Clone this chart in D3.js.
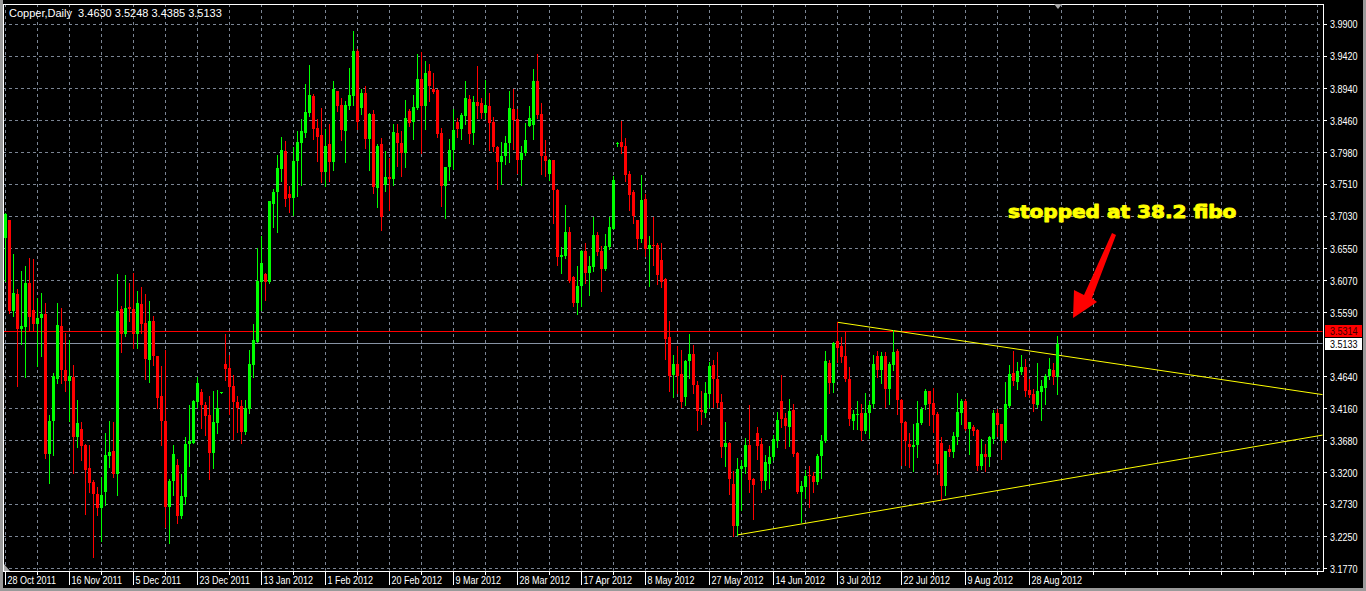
<!DOCTYPE html>
<html><head><meta charset="utf-8">
<script src="https://cdn.jsdelivr.net/npm/d3@7"></script>
<style>html,body{margin:0;padding:0;background:#000;overflow:hidden}</style>
</head><body>
<svg id="c" width="1366" height="591"></svg>
<script>
const symbolName = "Copper,Daily";
const dateLabels = ["28 Oct 2011","16 Nov 2011","5 Dec 2011","23 Dec 2011","13 Jan 2012","1 Feb 2012","20 Feb 2012","9 Mar 2012","28 Mar 2012","17 Apr 2012","8 May 2012","27 May 2012","14 Jun 2012","3 Jul 2012","22 Jul 2012","9 Aug 2012","28 Aug 2012"];
const priceTicks = [3.9900,3.9420,3.8940,3.8460,3.7980,3.7510,3.7030,3.6550,3.6070,3.5590,3.4640,3.4160,3.3680,3.3200,3.2730,3.2250,3.1770];
const opens = [3.6715,3.6975,3.5615,3.5865,3.5355,3.5375,3.603,3.564,3.543,3.551,3.558,3.348,3.3975,3.4605,3.540,3.474,3.4575,3.464,3.373,3.385,3.3615,3.3275,3.3065,3.289,3.268,3.2915,3.345,3.353,3.319,3.565,3.528,3.5675,3.5655,3.528,3.573,3.544,3.489,3.5475,3.495,3.435,3.398,3.269,3.3075,3.3315,3.255,3.284,3.363,3.365,3.4265,3.4415,3.4215,3.4065,3.35,3.394,3.4405,3.483,3.4765,3.45,3.4265,3.42,3.3805,3.415,3.4805,3.5155,3.6055,3.617,3.6055,3.722,3.739,3.7745,3.8015,3.737,3.7305,3.7855,3.813,3.828,3.857,3.883,3.8345,3.824,3.769,3.8105,3.784,3.89,3.869,3.8305,3.868,3.883,3.9505,3.8645,3.887,3.818,3.8555,3.7455,3.8105,3.7505,3.7615,3.7595,3.828,3.813,3.798,3.8605,3.844,3.8655,3.909,3.868,3.9205,3.894,3.8915,3.827,3.749,3.7765,3.803,3.844,3.833,3.853,3.879,3.827,3.874,3.873,3.858,3.868,3.844,3.807,3.784,3.794,3.813,3.864,3.849,3.787,3.798,3.838,3.84,3.9055,3.8555,3.794,3.767,3.787,3.743,3.643,3.644,3.68,3.613,3.574,3.599,3.6515,3.619,3.628,3.6755,3.6515,3.6245,3.658,3.6845,3.811,3.814,3.808,3.767,3.739,3.698,3.669,3.729,3.654,3.6605,3.6605,3.638,3.609,3.523,3.467,3.482,3.468,3.434,3.487,3.498,3.452,3.414,3.409,3.4375,3.481,3.461,3.426,3.3585,3.364,3.304,3.241,3.326,3.3285,3.361,3.311,3.38,3.3625,3.3075,3.334,3.3435,3.3675,3.4275,3.4015,3.3885,3.414,3.35,3.291,3.2985,3.317,3.316,3.306,3.345,3.3675,3.484,3.454,3.5175,3.51,3.494,3.461,3.3975,3.406,3.409,3.3825,3.409,3.4225,3.495,3.474,3.495,3.445,3.481,3.5025,3.429,3.3965,3.3625,3.3585,3.3615,3.394,3.421,3.4425,3.425,3.4075,3.364,3.30,3.356,3.351,3.374,3.409,3.4275,3.385,3.3885,3.384,3.331,3.349,3.344,3.371,3.409,3.3925,3.3675,3.42,3.469,3.456,3.471,3.4785,3.444,3.4375,3.421,3.441,3.4475,3.465,3.474,3.4630];
const highs = [3.708,3.698,3.6465,3.594,3.6215,3.629,3.6415,3.639,3.5815,3.589,3.574,3.4065,3.469,3.574,3.5665,3.529,3.519,3.4815,3.429,3.3965,3.3625,3.3615,3.31,3.299,3.314,3.379,3.398,3.3965,3.6165,3.569,3.615,3.604,3.618,3.5915,3.597,3.5875,3.5775,3.555,3.495,3.479,3.504,3.3115,3.3615,3.3415,3.319,3.374,3.4215,3.429,3.464,3.4455,3.4255,3.435,3.443,3.444,3.4415,3.5275,3.4965,3.4665,3.435,3.429,3.429,3.504,3.542,3.6555,3.674,3.619,3.7255,3.744,3.7955,3.8215,3.8155,3.748,3.807,3.8305,3.849,3.9005,3.929,3.8855,3.848,3.8655,3.834,3.8405,3.9055,3.89,3.8805,3.8755,3.924,3.9805,3.953,3.894,3.898,3.858,3.8615,3.8105,3.8205,3.8005,3.7905,3.8405,3.8405,3.8305,3.877,3.863,3.884,3.9455,3.949,3.9355,3.9305,3.918,3.893,3.8355,3.7765,3.818,3.863,3.8505,3.857,3.9055,3.884,3.883,3.928,3.8805,3.9065,3.887,3.852,3.809,3.8145,3.823,3.8905,3.894,3.863,3.808,3.842,3.868,3.923,3.9455,3.872,3.8165,3.789,3.788,3.744,3.658,3.7205,3.688,3.6145,3.629,3.653,3.663,3.644,3.702,3.6805,3.659,3.677,3.702,3.763,3.8145,3.8455,3.8205,3.7705,3.743,3.698,3.7655,3.737,3.674,3.702,3.663,3.663,3.6105,3.547,3.4955,3.509,3.503,3.489,3.527,3.5115,3.457,3.442,3.4555,3.485,3.489,3.50,3.4375,3.396,3.366,3.3225,3.3425,3.34,3.3715,3.421,3.3125,3.389,3.3725,3.3475,3.36,3.376,3.411,3.466,3.409,3.43,3.4225,3.351,3.3075,3.325,3.331,3.321,3.349,3.376,3.5025,3.489,3.515,3.545,3.5225,3.53,3.4775,3.414,3.4275,3.4225,3.439,3.4275,3.496,3.5025,3.501,3.501,3.485,3.534,3.505,3.43,3.3975,3.379,3.3925,3.4275,3.419,3.445,3.4425,3.4475,3.411,3.374,3.3525,3.361,3.381,3.439,3.43,3.431,3.396,3.391,3.385,3.371,3.3625,3.375,3.414,3.415,3.3925,3.456,3.481,3.5025,3.485,3.496,3.49,3.46,3.445,3.484,3.459,3.4675,3.491,3.484,3.5248];
const lows = [3.6065,3.559,3.555,3.4505,3.513,3.463,3.534,3.5315,3.480,3.494,3.343,3.305,3.3465,3.454,3.454,3.443,3.398,3.32,3.359,3.339,3.259,3.2915,3.195,3.2565,3.219,3.2715,3.329,3.314,3.2865,3.500,3.524,3.5465,3.5065,3.5065,3.529,3.46,3.456,3.4815,3.4165,3.3615,3.24,3.215,3.2865,3.245,3.252,3.274,3.33,3.364,3.419,3.3865,3.3765,3.3115,3.3275,3.379,3.4400,3.459,3.4075,3.3705,3.3805,3.365,3.378,3.41,3.464,3.5155,3.564,3.578,3.603,3.687,3.6805,3.7555,3.718,3.709,3.7055,3.734,3.7505,3.822,3.853,3.818,3.7855,3.754,3.748,3.7555,3.772,3.8605,3.8165,3.784,3.863,3.869,3.833,3.8555,3.8055,3.773,3.738,3.717,3.683,3.7405,3.713,3.7505,3.779,3.763,3.777,3.838,3.818,3.863,3.798,3.834,3.8755,3.888,3.822,3.718,3.7005,3.757,3.774,3.8215,3.818,3.8405,3.812,3.8105,3.8505,3.8505,3.8505,3.802,3.8005,3.744,3.752,3.782,3.784,3.804,3.768,3.7505,3.7955,3.838,3.818,3.8505,3.767,3.763,3.757,3.693,3.6305,3.619,3.6405,3.6055,3.569,3.557,3.569,3.603,3.5855,3.622,3.6455,3.5915,3.623,3.654,3.6845,3.808,3.798,3.7555,3.713,3.693,3.654,3.6655,3.644,3.599,3.6305,3.602,3.597,3.4905,3.443,3.434,3.439,3.419,3.422,3.462,3.439,3.384,3.393,3.404,3.419,3.419,3.419,3.344,3.33,3.289,3.226,3.2275,3.264,3.32,3.291,3.2515,3.341,3.291,3.296,3.2975,3.339,3.359,3.389,3.3575,3.36,3.346,3.29,3.246,3.2825,3.269,3.291,3.304,3.3125,3.366,3.439,3.441,3.485,3.485,3.4575,3.391,3.385,3.385,3.369,3.38,3.3725,3.419,3.464,3.455,3.419,3.4225,3.474,3.4075,3.3325,3.3325,3.3285,3.3225,3.344,3.3925,3.416,3.391,3.381,3.319,3.28,3.2875,3.346,3.344,3.3625,3.3925,3.384,3.349,3.376,3.325,3.326,3.3235,3.33,3.365,3.375,3.341,3.366,3.419,3.451,3.445,3.4675,3.435,3.434,3.4125,3.419,3.399,3.4225,3.46,3.4525,3.4385];
const closes = [3.7065,3.5625,3.588,3.5355,3.540,3.604,3.5525,3.5425,3.552,3.558,3.348,3.3975,3.465,3.541,3.474,3.4575,3.465,3.373,3.394,3.36,3.325,3.305,3.289,3.268,3.2865,3.3465,3.3515,3.319,3.5625,3.528,3.5665,3.565,3.528,3.574,3.543,3.4905,3.5475,3.494,3.4325,3.398,3.269,3.3075,3.348,3.255,3.2855,3.363,3.368,3.428,3.455,3.4215,3.405,3.35,3.3965,3.4165,3.441,3.475,3.449,3.4265,3.4165,3.3805,3.4165,3.483,3.518,3.6065,3.633,3.6055,3.7255,3.74,3.776,3.803,3.7295,3.7305,3.7865,3.814,3.8305,3.859,3.8845,3.833,3.822,3.769,3.809,3.784,3.894,3.868,3.832,3.869,3.884,3.9505,3.844,3.888,3.818,3.8555,3.747,3.809,3.7015,3.7615,3.7595,3.829,3.812,3.798,3.8495,3.843,3.867,3.909,3.868,3.918,3.898,3.8895,3.8255,3.749,3.7765,3.803,3.8315,3.833,3.854,3.8805,3.8255,3.874,3.868,3.858,3.869,3.843,3.807,3.784,3.794,3.813,3.8655,3.847,3.787,3.798,3.8165,3.8505,3.9055,3.854,3.793,3.7855,3.787,3.742,3.643,3.6455,3.68,3.607,3.574,3.599,3.6515,3.619,3.629,3.6755,3.6505,3.6245,3.659,3.688,3.757,3.813,3.807,3.7655,3.7355,3.704,3.669,3.728,3.654,3.6605,3.659,3.6155,3.6055,3.5205,3.4655,3.482,3.4655,3.4255,3.487,3.498,3.452,3.412,3.4105,3.439,3.48,3.46,3.424,3.3585,3.364,3.3115,3.241,3.326,3.33,3.361,3.31,3.3015,3.36,3.3085,3.3365,3.3435,3.37,3.3985,3.40,3.39,3.4125,3.349,3.291,3.301,3.315,3.315,3.306,3.346,3.3675,3.4875,3.454,3.514,3.506,3.4925,3.46,3.40,3.4075,3.4075,3.3825,3.41,3.421,3.4825,3.474,3.495,3.446,3.4825,3.501,3.429,3.394,3.3675,3.3585,3.3615,3.395,3.416,3.4425,3.4225,3.406,3.334,3.30,3.3525,3.3515,3.375,3.411,3.4275,3.385,3.396,3.3825,3.331,3.349,3.344,3.3735,3.409,3.391,3.3675,3.4225,3.4675,3.4575,3.4725,3.4785,3.4425,3.436,3.4225,3.4425,3.45,3.465,3.475,3.464,3.5133];
const resistanceLevel = 3.5314;
const upperTrend = [[208, 3.545], [263, 3.496]];
const lowerTrend = [[183, 3.2275], [263, 3.309]];
const annotationText = "stopped at 38.2 fibo";

const W = 1366, H = 591;
const F = {l: 3, t: 4, r: 1323, b: 571};
const svg = d3.select("#c").attr("shape-rendering", "crispEdges");
const n = closes.length;
const x = d3.scaleLinear().domain([0, n - 1]).range([5.5, 5.5 + 4 * (n - 1)]);
const y = d3.scaleLinear().domain([3.177, 3.99]).range([568.7, 24.3]);
const cy = v => Math.round(y(v) - 0.5) + 0.5;
const FONT = "'Liberation Sans',Arial,sans-serif";
const NARROW = 0.82;
const GRID = "#7b8594";

svg.append("rect").attr("width", W).attr("height", H).attr("fill", "#000");
svg.append("rect").attr("x", 0).attr("y", 0).attr("width", 2.5).attr("height", H).attr("fill", "#9a9a9a");
svg.append("rect").attr("x", 1363).attr("y", 0).attr("width", 3).attr("height", H).attr("fill", "#9a9a9a");
svg.append("rect").attr("x", 0).attr("y", 588).attr("width", W).attr("height", 3).attr("fill", "#9a9a9a");

const defs = svg.append("defs");
defs.append("clipPath").attr("id", "plot").append("rect")
  .attr("x", F.l + 0.5).attr("y", F.t + 0.5).attr("width", F.r - F.l - 1).attr("height", F.b - F.t - 1);

const g = svg.append("g").attr("clip-path", "url(#plot)");

// grid
const vBars = d3.range(0, Math.ceil(x.invert(F.r)), 8);
g.selectAll(".vg").data(vBars).join("line")
  .attr("x1", d => x(d)).attr("x2", d => x(d)).attr("y1", F.t).attr("y2", F.b)
  .attr("stroke", GRID).attr("stroke-dasharray", "3,3");
g.selectAll(".hg").data(priceTicks).join("line")
  .attr("x1", F.l).attr("x2", F.r).attr("y1", d => cy(d)).attr("y2", d => cy(d))
  .attr("stroke", GRID).attr("stroke-dasharray", "3,3");

// resistance and bid lines
const bid = closes[n - 1];
g.append("line").attr("x1", F.l).attr("x2", F.r).attr("y1", cy(bid)).attr("y2", cy(bid))
  .attr("stroke", "#8793a4");
g.append("line").attr("x1", F.l).attr("x2", F.r).attr("y1", cy(resistanceLevel)).attr("y2", cy(resistanceLevel))
  .attr("stroke", "#ff0000").attr("stroke-width", 1);

// trend lines (rays)
function ray(tl) {
  const [[b1, p1], [b2, p2]] = tl;
  const bEnd = x.invert(F.r);
  const pEnd = p1 + (p2 - p1) * (bEnd - b1) / (b2 - b1);
  g.append("line").attr("x1", x(b1)).attr("y1", y(p1)).attr("x2", x(bEnd)).attr("y2", y(pEnd))
    .attr("stroke", "#ffff00").attr("stroke-width", 1).attr("shape-rendering", "auto");
}
ray(upperTrend);
ray(lowerTrend);

// candles
const idx = d3.range(n);
const col = i => closes[i] >= opens[i] ? "#00ff00" : "#ff0000";
g.selectAll(".wick").data(idx).join("line")
  .attr("x1", i => x(i)).attr("x2", i => x(i))
  .attr("y1", i => Math.round(y(highs[i]))).attr("y2", i => Math.round(y(lows[i])) + 1)
  .attr("stroke", col);
g.selectAll(".body").data(idx).join("rect")
  .attr("x", i => x(i) - 1.5).attr("width", 3)
  .attr("y", i => Math.round(y(Math.max(opens[i], closes[i]))))
  .attr("height", i => Math.max(1, Math.round(y(Math.min(opens[i], closes[i]))) - Math.round(y(Math.max(opens[i], closes[i])))))
  .attr("fill", col);

// frame
svg.append("rect").attr("x", F.l + 0.5).attr("y", F.t + 0.5).attr("width", F.r - F.l).attr("height", F.b - F.t)
  .attr("fill", "none").attr("stroke", "#ffffff");

function narrowText(parent, tx, ty, str, fill) {
  return parent.append("text")
    .attr("transform", `translate(${tx},${ty}) scale(${NARROW},1)`)
    .attr("fill", fill).attr("font-family", FONT).attr("font-size", 11)
    .attr("shape-rendering", "auto").text(str);
}

// right axis
const ra = svg.append("g");
ra.selectAll("line").data(priceTicks).join("line")
  .attr("x1", F.r + 1).attr("x2", F.r + 4).attr("y1", d => cy(d)).attr("y2", d => cy(d)).attr("stroke", "#fff");
priceTicks.forEach(d => narrowText(ra, 1330, y(d) + 4, d.toFixed(4), "#fff"));

function priceBox(v, bg, fg) {
  const yy = Math.round(y(v));
  svg.append("rect").attr("x", F.r + 2).attr("y", yy - 6).attr("width", 37).attr("height", 12).attr("fill", bg);
  narrowText(svg, 1330, yy + 4, v.toFixed(4), fg);
}
priceBox(resistanceLevel, "#ff0000", "#3a0000");
priceBox(bid, "#ffffff", "#000000");

// bottom axis
const ba = svg.append("g");
ba.selectAll(".mt").data(vBars).join("line")
  .attr("x1", d => x(d)).attr("x2", d => x(d)).attr("y1", F.b + 1).attr("y2", F.b + 4).attr("stroke", "#fff");
const labelBars = dateLabels.map((d, k) => k * 16);
ba.selectAll(".lt").data(labelBars).join("line")
  .attr("x1", d => x(d)).attr("x2", d => x(d)).attr("y1", F.b + 1).attr("y2", F.b + 14).attr("stroke", "#fff");
dateLabels.forEach((d, k) => narrowText(ba, x(labelBars[k]) + 2, 584, d, "#fff"));

// markers
svg.append("path").attr("d", "M1054,4 L1062,4 L1058,9 Z").attr("fill", "#a8a8a8").attr("shape-rendering", "auto");
svg.append("path").attr("d", "M4,564 L4,571 L10,571 Z").attr("fill", "#a8a8a8").attr("shape-rendering", "auto");

// title
const f4 = v => v.toFixed(4);
svg.append("text").attr("x", 9).attr("y", 17).attr("fill", "#fff")
  .attr("font-family", FONT).attr("font-size", 11)
  .attr("xml:space", "preserve")
  .text(`${symbolName}  ${f4(opens[n-1])} ${f4(highs[n-1])} ${f4(lows[n-1])} ${f4(closes[n-1])}`);

// annotation
svg.append("text").attr("transform", "translate(1008,217.5) scale(1.18,1)")
  .attr("fill", "#ffff00").attr("stroke", "#ffff00").attr("stroke-width", 0.9).attr("stroke-linejoin", "round")
  .attr("font-family", "'DejaVu Sans',sans-serif").attr("font-weight", "bold").attr("font-size", 17)
  .attr("shape-rendering", "auto").text(annotationText);
svg.append("path")
  .attr("d", "M1112,233 L1116,235 L1092,298 L1097,302 L1073,318 L1074,290 L1084,295 Z")
  .attr("fill", "#ff0000").attr("shape-rendering", "auto");
</script>
</body></html>
